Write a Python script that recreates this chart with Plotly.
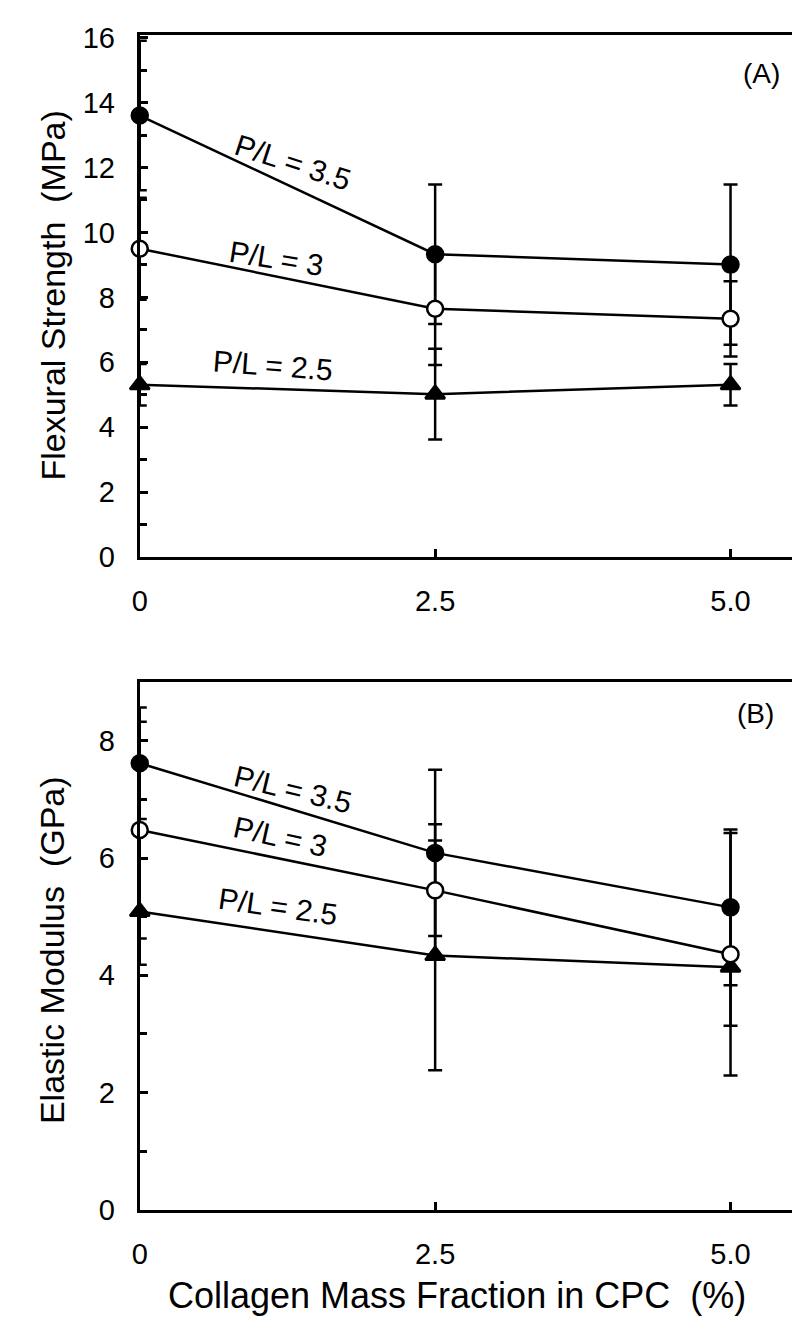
import plotly.graph_objects as go

# ---------------- data ----------------
collagen = [0, 2.5, 5.0]
x_ticktext = ["0", "2.5", "5.0"]

# Panel A: flexural strength (MPa)
fs_pl35 = [13.6, 9.33, 9.01]
fs_pl35_err = [2.3, 2.15, 2.47]
fs_pl30 = [9.5, 7.65, 7.34]
fs_pl30_err = [1.57, 1.73, 1.16]
fs_pl25 = [5.31, 5.02, 5.31]
fs_pl25_err = [0.64, 1.4, 0.64]

# Panel B: elastic modulus (GPa)
em_pl35 = [7.62, 6.09, 5.16]
em_pl35_err = [0.95, 1.42, 1.33]
em_pl30 = [6.48, 5.45, 4.36]
em_pl30_err = [1.85, 1.13, 2.07]
em_pl25 = [5.09, 4.34, 4.14]
em_pl25_err = [0.91, 1.96, 1.0]

labels = ["P/L = 3.5", "P/L = 3", "P/L = 2.5"]

FONT = "Arial, Liberation Sans, Helvetica, sans-serif"
BLACK = "black"

fig = go.Figure()


def add_series(x, y, err, symbol, fill, xa, ya):
    fig.add_trace(go.Scatter(
        x=x, y=y, mode="lines+markers",
        xaxis=xa, yaxis=ya,
        line=dict(color=BLACK, width=2.5),
        marker=dict(symbol=symbol, size=16 if symbol != "triangle-up" else 17,
                    color=fill, line=dict(color=BLACK, width=2.5)),
        error_y=dict(type="data", array=err, visible=True,
                     color=BLACK, thickness=2.5, width=7),
        cliponaxis=False, showlegend=False,
    ))


# Panel A
add_series(collagen, fs_pl35, fs_pl35_err, "circle", BLACK, "x", "y")
add_series(collagen, fs_pl25, fs_pl25_err, "triangle-up", BLACK, "x", "y")
add_series(collagen, fs_pl30, fs_pl30_err, "circle", "white", "x", "y")
# Panel B
add_series(collagen, em_pl35, em_pl35_err, "circle", BLACK, "x2", "y2")
add_series(collagen, em_pl25, em_pl25_err, "triangle-up", BLACK, "x2", "y2")
add_series(collagen, em_pl30, em_pl30_err, "circle", "white", "x2", "y2")

xdom = [125 / 800, 785 / 800]
ydomA = [1 - 548 / 1340, 1 - 14 / 1340]
ydomB = [1 - 1215 / 1340, 1 - 676 / 1340]

common_x = dict(
    range=[0, 5.53], tickvals=collagen, ticktext=x_ticktext,
    ticks="inside", ticklen=8, tickwidth=2.5, tickcolor=BLACK,
    showline=True, linecolor=BLACK, linewidth=3, mirror=True,
    showgrid=False, zeroline=False,
    tickfont=dict(family=FONT, size=29, color=BLACK),
    ticklabelstandoff=16,
)
common_y = dict(
    ticks="inside", ticklen=8, tickwidth=2.5, tickcolor=BLACK,
    showline=True, linecolor=BLACK, linewidth=3, mirror=True,
    showgrid=False, zeroline=False,
    tickfont=dict(family=FONT, size=29, color=BLACK),
    ticklabelstandoff=16,
    minor=dict(ticks="inside", ticklen=7, tickwidth=2.5, tickcolor=BLACK, dtick=1),
)

fig.update_layout(
    width=800, height=1340,
    margin=dict(l=0, r=0, t=0, b=0),
    paper_bgcolor="white", plot_bgcolor="white",
    font=dict(family=FONT, color=BLACK),
    xaxis=dict(domain=xdom, anchor="y", **common_x),
    yaxis=dict(domain=ydomA, anchor="x", range=[0, 16.09], dtick=2, **common_y),
    xaxis2=dict(domain=xdom, anchor="y2", **common_x),
    yaxis2=dict(domain=ydomB, anchor="x2", range=[0, 9], dtick=2, **common_y),
)

ann = []
# line labels, panel A
ann.append(dict(x=1.30, y=12.15, xref="x", yref="y", text=labels[0], textangle=18))
ann.append(dict(x=1.16, y=9.2, xref="x", yref="y", text=labels[1], textangle=9))
ann.append(dict(x=1.13, y=5.9, xref="x", yref="y", text=labels[2], textangle=4.5))
# line labels, panel B
ann.append(dict(x=1.30, y=7.17, xref="x2", yref="y2", text=labels[0], textangle=13.5))
ann.append(dict(x=1.19, y=6.37, xref="x2", yref="y2", text=labels[1], textangle=12.5))
ann.append(dict(x=1.17, y=5.17, xref="x2", yref="y2", text=labels[2], textangle=8))
for a in ann:
    a.update(showarrow=False, font=dict(family=FONT, size=30, color=BLACK))

panel_tags = [
    dict(x=5.26, y=14.9, xref="x", yref="y", text="(A)"),
    dict(x=5.21, y=8.47, xref="x2", yref="y2", text="(B)"),
]
for a in panel_tags:
    a.update(showarrow=False, font=dict(family=FONT, size=28, color=BLACK))

titles = [
    dict(x=37 / 800, y=1 - 281 / 1340, xref="paper", yref="paper",
         text="Flexural Strength  (MPa)", textangle=-90, size=34),
    dict(x=37 / 800, y=1 - 950 / 1340, xref="paper", yref="paper",
         text="Elastic Modulus  (GPa)", textangle=-90, size=34),
    dict(x=445 / 800, y=1 - 1303 / 1340, xref="paper", yref="paper",
         text="Collagen Mass Fraction in CPC  (%)", textangle=0, size=36),
]
title_anns = []
for t in titles:
    size = t.pop("size")
    t.update(showarrow=False, xanchor="center", yanchor="middle",
             font=dict(family=FONT, size=size, color=BLACK))
    title_anns.append(t)

fig.update_layout(annotations=ann + panel_tags + title_anns)

fig.write_html("out.html")
